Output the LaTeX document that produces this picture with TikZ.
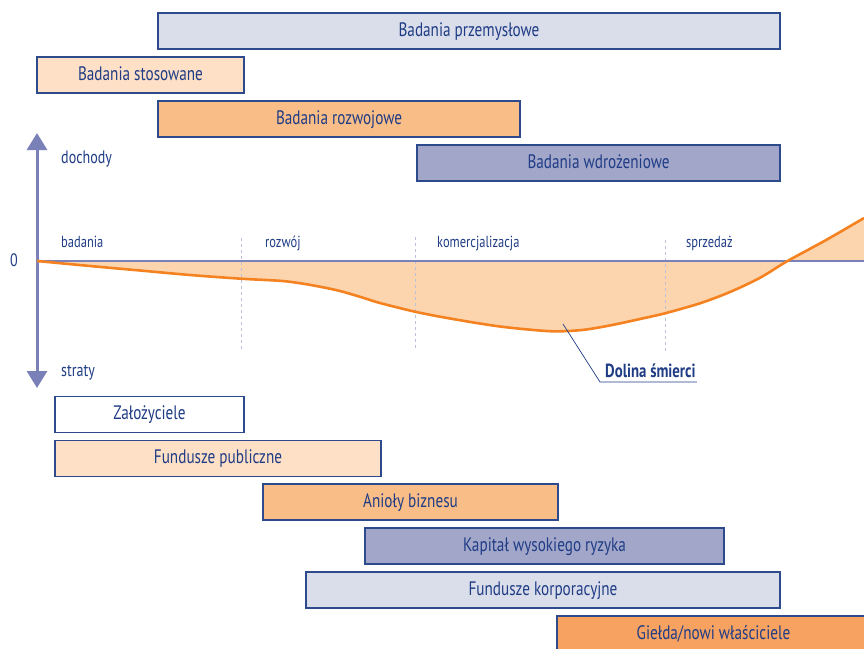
\documentclass[tikz,border=0pt]{standalone}
\usepackage{fontspec}
\setmainfont{PT Sans}[FakeStretch=0.78]
\usetikzlibrary{arrows.meta}
\definecolor{navy}{HTML}{1F3C85}
\definecolor{edge}{HTML}{2C4A8C}
\definecolor{lav}{HTML}{DADEEB}
\definecolor{peach}{HTML}{FDE0C6}
\definecolor{apricot}{HTML}{F9BD87}
\definecolor{slate}{HTML}{A2A7CA}
\definecolor{tangerine}{HTML}{F7A261}
\definecolor{axisc}{HTML}{7A80B8}
\definecolor{curvec}{HTML}{F58220}
\definecolor{valley}{HTML}{FCD5AF}
\definecolor{guide}{HTML}{BCC0DA}
\begin{document}
\begin{tikzpicture}[x=1pt,y=-1pt,
  bar/.style={draw=edge, line width=1.4pt, minimum height=36pt, inner sep=0pt,
    text=navy, text height=14pt, text depth=4pt, font=\fontsize{19.5}{19.5}\selectfont},
  stage/.style={anchor=base west, inner sep=0pt, text=navy, font=\fontsize{16}{16}\selectfont},
  axlabel/.style={anchor=base west, inner sep=0pt, text=navy, font=\fontsize{18}{18}\selectfont},
  guideline/.style={draw=guide, line width=0.8pt, dash pattern=on 3pt off 3pt},
  cashpath/.style={smooth, tension=0.5}
]
\useasboundingbox (0,0) rectangle (864,648);
\clip (0,0) rectangle (864,648);

% research stages (top bars)
\node[bar, fill=lav,     minimum width=622pt] (bprz) at (469,31)  {Badania przemysłowe};
\node[bar, fill=peach,   minimum width=207pt] (bsto) at (140.5,75) {Badania stosowane};
\node[bar, fill=apricot, minimum width=362pt] (broz) at (339,119) {Badania rozwojowe};
\node[bar, fill=slate,   minimum width=363pt] (bwdr) at (598.5,163) {Badania wdrożeniowe};

% cash flow points
\def\cashpts{(37,261) (90,266) (140,270.5) (190,275) (241,278.7) (280,280.8) (300,283.2)
  (320,286.7) (340,291) (360,296.8) (380,303) (415,311.7) (450,318.5) (500,326.5)
  (550,331.2) (580,330.2) (600,327.3) (620,323.4) (640,319) (665,313.3) (700,303.3)
  (730,292) (760,277.8) (787,261.3) (827,239.5) (864,218)}

% loss area between the cash curve and the zero line
\fill[valley] plot[cashpath] coordinates {\cashpts} -- (864,261) -- cycle;

% stage separators
\coordinate (s1t) at (241,238); \coordinate (s1b) at (241,350);
\coordinate (s2t) at (415,237); \coordinate (s2b) at (415,350);
\coordinate (s3t) at (665,240); \coordinate (s3b) at (665,352);
\draw[guideline] (s1t) -- (s1b);
\draw[guideline] (s2t) -- (s2b);
\draw[guideline] (s3t) -- (s3b);

% axes
\coordinate (o) at (37,261);
\coordinate (xe) at (864,261);
\coordinate (ytop) at (37,133);
\coordinate (ybot) at (37,388);
\draw[axisc, line width=1.3pt] (o) -- (xe);
\draw[axisc, line width=3pt, {Triangle[width=20pt,length=17pt]}-{Triangle[width=20pt,length=17pt]}] (ybot) -- (ytop);

% cash curve
\draw[curvec, line width=2.6pt] plot[cashpath] coordinates {\cashpts};

% labels
\node[axlabel] (zero) at (10,266) {0};
\node[axlabel] (doch) at (61,163) {dochody};
\node[axlabel] (strt) at (61,376) {straty};
\node[stage] (lb1) at (61,247)  {badania};
\node[stage] (lb2) at (265,247) {rozwój};
\node[stage] (lb3) at (437,247) {komercjalizacja};
\node[stage] (lb4) at (686,247) {sprzedaż};

% valley of death callout
\node[anchor=base west, inner sep=0pt, text=navy, font=\fontsize{19}{19}\selectfont\bfseries] (dol) at (605,377) {Dolina śmierci};
\coordinate (vp) at (563,324);
\coordinate (knee) at (600,382);
\draw[navy, line width=0.7pt] (vp) -- (knee) -- ([xshift=1pt]knee -| dol.east);

% funding sources (bottom bars)
\node[bar, fill=white,     minimum width=189pt] (fzal) at (149.5,414.5) {Założyciele};
\node[bar, fill=peach,     minimum width=326pt] (fpub) at (218,458.5)  {Fundusze publiczne};
\node[bar, fill=apricot,   minimum width=295pt] (fani) at (410.5,502)  {Anioły biznesu};
\node[bar, fill=slate,     minimum width=359pt] (fkap) at (544.5,546)  {Kapitał wysokiego ryzyka};
\node[bar, fill=lav,       minimum width=474pt] (fkor) at (543,590)    {Fundusze korporacyjne};
\node[bar, fill=tangerine, minimum width=313pt] (fgie) at (713.5,634)  {Giełda/nowi właściciele};
\end{tikzpicture}
\end{document}
